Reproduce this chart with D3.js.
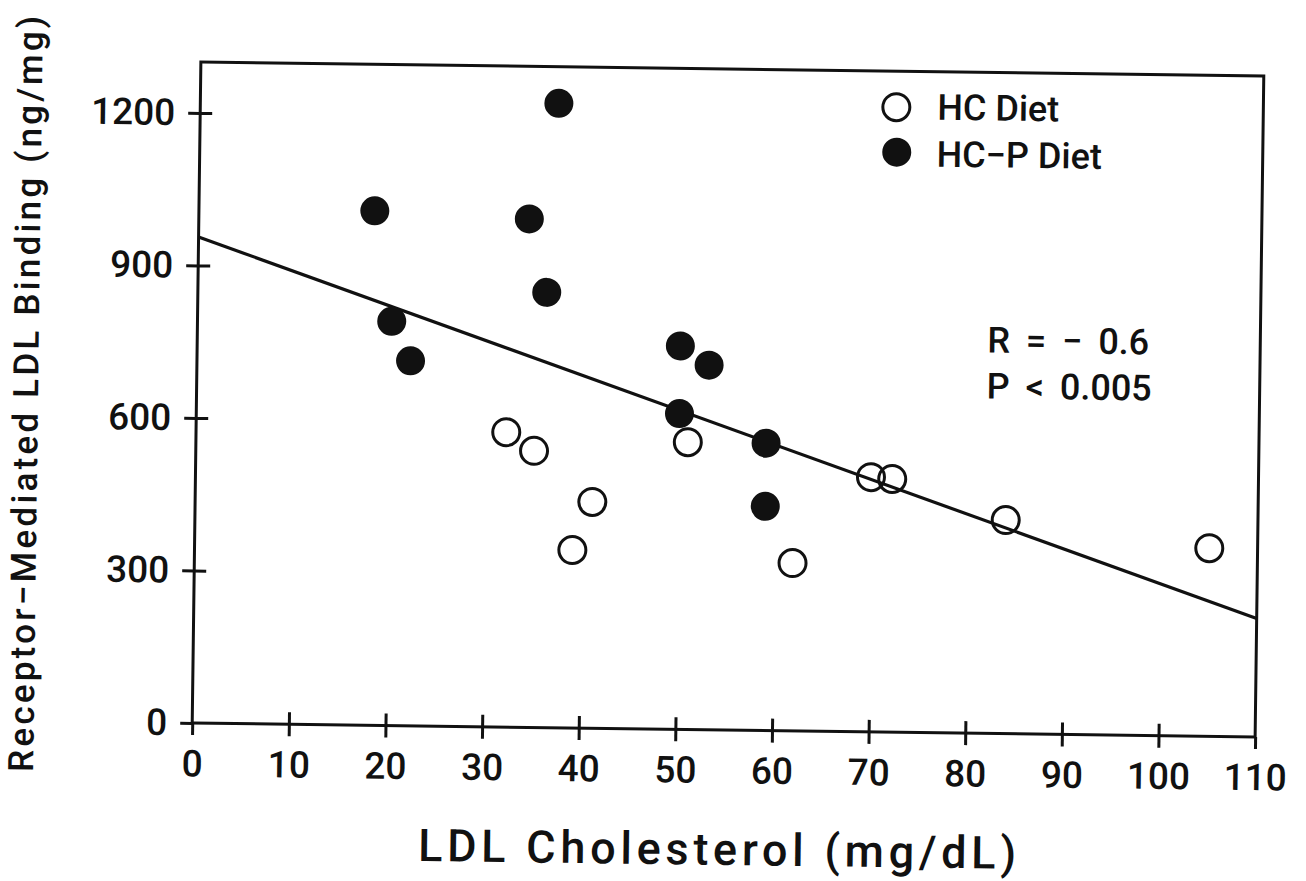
<!DOCTYPE html>
<html>
<head>
<meta charset="utf-8">
<script src="https://cdn.jsdelivr.net/npm/d3@7"></script>
<style>
  body { margin: 0; background: #fff; }
  text { font-family: Roboto, "DejaVu Sans", sans-serif; font-weight: 500; fill: #111; }
</style>
</head>
<body>
<div id="chart"></div>
<script>
// LDL cholesterol vs receptor-mediated LDL binding

const hcX = [32.1, 35.0, 41.1, 39.1, 50.9, 61.9, 69.9, 72.1, 83.9, 105.0];
const hcY = [580, 544, 445, 350, 565, 330, 501, 498, 420, 370];

const hcpX = [37.1, 18.2, 34.2, 36.1, 20.1, 22.1, 50.0, 53.0, 50.0, 59.0, 59.0];
const hcpY = [1228, 1012, 1000, 856, 795, 718, 754, 717, 621, 565, 441];

// regression line end points
const fitX = [0, 110];
const fitY = [956, 233];

const xTicks = [0, 10, 20, 30, 40, 50, 60, 70, 80, 90, 100, 110];
const yTicks = [0, 300, 600, 900, 1200];

const legendLabels = ['HC Diet', 'HC\u2212P Diet'];
const statLabels = ['R = \u2212 0.6', 'P < 0.005'];

const W = 1306, H = 881;
const L = 196.5, R = 1259.5, T = 69, B = 730;

const svg = d3.select('#chart').append('svg')
  .attr('width', W).attr('height', H)
  .attr('style', 'background: #fff');

// the scan is slightly tilted, so the whole figure is turned a little
const g = svg.append('g').attr('transform', `rotate(0.75, ${(L + R) / 2}, ${(T + B) / 2})`);

const x = d3.scaleLinear().domain([0, 110]).range([L, R]);
const y = d3.scaleLinear().domain([0, 1300]).range([B, T]);

// stretch a text to a given width with letter spacing
const spreadTo = function(sel, width){
  const n = sel.text().length;
  const w = sel.node().getComputedTextLength();
  sel.attr('letter-spacing', (width - w) / (n - 1));
};

// frame
g.append('rect')
  .attr('x', L).attr('y', T)
  .attr('width', R - L).attr('height', B - T)
  .attr('fill', 'none').attr('stroke', '#111').attr('stroke-width', 3);

const styleAxis = function(sel){
  sel.select('.domain').remove();
  sel.selectAll('line').attr('stroke', '#111').attr('stroke-width', 3);
  sel.selectAll('text').attr('font-size', 37).attr('fill', '#111')
     .attr('font-family', 'Roboto, "DejaVu Sans", sans-serif');
};

// outer halves of the cross ticks, with labels
g.append('g').attr('transform', `translate(0, ${B})`)
  .call(d3.axisBottom(x).tickValues(xTicks).tickFormat(d3.format('d')).tickSize(12).tickPadding(15))
  .call(styleAxis);
g.append('g').attr('transform', `translate(${L}, 0)`)
  .call(d3.axisLeft(y).tickValues(yTicks).tickFormat(d3.format('d')).tickSize(12).tickPadding(13))
  .call(styleAxis);

// inner halves
g.append('g').attr('transform', `translate(0, ${B})`)
  .call(d3.axisBottom(x).tickValues(xTicks.slice(1, -1)).tickSize(-12).tickFormat(''))
  .call(styleAxis);
g.append('g').attr('transform', `translate(${L}, 0)`)
  .call(d3.axisLeft(y).tickValues(yTicks.slice(1)).tickSize(-12).tickFormat(''))
  .call(styleAxis);

// regression line
g.append('path')
  .datum(d3.zip(fitX, fitY))
  .attr('d', d3.line().x(d => x(d[0])).y(d => y(d[1])))
  .attr('fill', 'none').attr('stroke', '#111').attr('stroke-width', 3.2);

// points
g.append('g').selectAll('circle').data(d3.zip(hcX, hcY)).enter().append('circle')
  .attr('cx', d => x(d[0])).attr('cy', d => y(d[1])).attr('r', 13.5)
  .attr('fill', 'none').attr('stroke', '#111').attr('stroke-width', 3);

g.append('g').selectAll('circle').data(d3.zip(hcpX, hcpY)).enter().append('circle')
  .attr('cx', d => x(d[0])).attr('cy', d => y(d[1])).attr('r', 14.5)
  .attr('fill', '#111');

// legend
const lg = g.append('g').attr('transform', `translate(${L + 696}, ${T + 36})`);
lg.append('circle').attr('cx', 0).attr('cy', 0).attr('r', 13.5)
  .attr('fill', 'none').attr('stroke', '#111').attr('stroke-width', 3);
lg.append('circle').attr('cx', 1).attr('cy', 45).attr('r', 14.5).attr('fill', '#111');
lg.selectAll('text').data(legendLabels).enter().append('text')
  .attr('x', 41).attr('y', (d, i) => 12 + i * 47)
  .attr('font-size', 36)
  .text(d => d);

// statistics
g.append('g').selectAll('text').data(statLabels).enter().append('text')
  .attr('x', L + 790).attr('y', (d, i) => T + 280 + i * 46)
  .attr('font-size', 36).attr('word-spacing', 7)
  .text(d => d);

// axis titles
g.append('text')
  .attr('x', 424).attr('y', 865)
  .attr('font-size', 45)
  .text('LDL Cholesterol (mg/dL)')
  .call(spreadTo, 598);

g.append('text')
  .attr('transform', 'translate(38, 781) rotate(-90)')
  .attr('font-size', 35)
  .text('Receptor\u2212Mediated LDL Binding (ng/mg)')
  .call(spreadTo, 756);
</script>
</body>
</html>
